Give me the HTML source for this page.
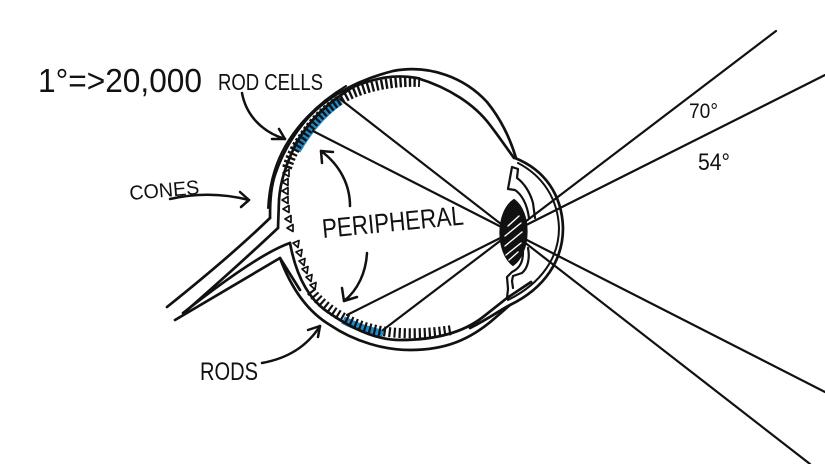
<!DOCTYPE html>
<html>
<head>
<meta charset="utf-8">
<style>
  html,body{margin:0;padding:0;background:#fff;}
  svg{display:block;}
  text{font-family:"Liberation Sans",sans-serif;fill:#111;}
</style>
</head>
<body>
<svg width="825" height="464" viewBox="0 0 825 464" xmlns="http://www.w3.org/2000/svg">
  <rect width="825" height="464" fill="#fff"/>

  <!-- blue retina highlights -->
  <path d="M296,150 C307,131 321,113 340,100" stroke="#1f8ac8" stroke-width="10" fill="none"/>
  <path d="M343,320 C355,326 369,331 383,334" stroke="#1f8ac8" stroke-width="8" fill="none"/>

  <g fill="none" stroke="#111" stroke-linecap="round" stroke-linejoin="round">
    <!-- rays -->
    <g stroke-width="2.2">
      <line x1="776" y1="31" x2="383" y2="330"/>
      <line x1="825" y1="75" x2="347" y2="315"/>
      <line x1="825" y1="392" x2="313" y2="131"/>
      <line x1="810" y1="464" x2="340" y2="99"/>
    </g>

    <!-- rod ticks top -->
    <path d="M287,168 C291,155 296,146 303,137 C315,118 333,101 356,92 C372,86 392,81 420,82" stroke-width="10" stroke-dasharray="2.4 2.3" stroke-linecap="butt"/>
    <!-- rod ticks bottom -->
    <path d="M311,291 C320,303 335,314 350,321 C365,328 380,332 400,333 C420,334 440,332 452,330" stroke-width="10" stroke-dasharray="2.2 2.8" stroke-linecap="butt"/>

    <!-- eye outer sclera -->
    <g stroke-width="2.7">
      <path d="M270,218 C270,200 271,185 276,172 C282,155 290,140 302,125 C320,102 350,82 393,71 C430,64 465,78 487,102 C500,118 510,138 516,158"/>
      <path d="M268,208 C269,188 274,168 282,152 C294,128 316,104 346,86" stroke-width="2"/>
      <!-- inner line -->
      <path d="M278,228 L279,200 C280,185 285,165 297,142 C310,120 325,105 353,87 C375,78 395,74 417,78 C450,88 475,105 490,125 C500,138 508,150 514,158"/>
      <!-- cornea -->
      <path d="M515,158 C545,170 562,195 563,228 C563,260 545,288 510,305 C500,310 490,318 470,328"/>
      <path d="M518,163 C543,176 558,199 559,228 C559,257 542,283 508,300" stroke-width="2"/>
      <!-- bottom outer -->
      <path d="M280,258 C290,285 305,310 330,325 C355,342 385,350 410,350 C445,350 470,340 495,318 L510,305"/>
      <!-- bottom inner -->
      <path d="M290,243 C295,270 305,295 325,310 C350,328 375,340 400,340 C430,340 460,335 483,317 L507,298 L531,282"/>
      <!-- optic nerve -->
      <path d="M270,218 Q232,255 167,307"/>
      <path d="M278,228 Q242,262 185,312"/>
      <path d="M290,243 Q258,254 183,313"/>
      <path d="M300,290 L280,258 L175,320"/>
    </g>

    <!-- iris upper -->
    <path d="M512,167 L518,169 L517,178 C524,183 530,192 533,203 L535,218 M512,167 L510,178 L508,189 L515,190 C521,194 527,203 529,218" stroke-width="2.2"/>
    <!-- iris lower -->
    <path d="M528,248 C530,258 528,268 522,273 L513,276 L512,281 L513,288 M523,252 C523,262 520,268 512,272 L507,277 L508,289 L507,298" stroke-width="2.2"/>

    <!-- cones -->
    <g stroke-width="1.7">
      <path d="M283,173 l6,-3.5 l0,7 z"/>
      <path d="M282,182 l6,-3.5 l0,7 z"/>
      <path d="M282,191 l6,-3.5 l0,7 z"/>
      <path d="M282,200 l6,-3.5 l0,7 z"/>
      <path d="M283,209 l6,-3.5 l0,7 z"/>
      <path d="M285,219 l6,-3.5 l0,7 z"/>
      <path d="M287,228 l6,-3.5 l0,7 z"/>
      <path d="M293,243 l6,-2.5 l-1,7 z"/>
      <path d="M296,252 l6,-2.5 l-1,7 z"/>
      <path d="M299,261 l6,-2.5 l-1,7 z"/>
      <path d="M302,269 l6,-2.5 l-1,7 z"/>
      <path d="M306,277 l6,-2.5 l-1,7 z"/>
      <path d="M310,285 l6,-2.5 l-1,7 z"/>
    </g>

    <!-- arrows -->
    <g stroke-width="2.5">
      <path d="M242,93 C246,115 262,132 285,139"/>
      <path d="M279,129 L285,139 L272,139"/>
      <path d="M170,199 Q210,190 249,200"/>
      <path d="M240,192 L249,200 L241,207"/>
      <path d="M350,206 C350,185 340,165 321,151"/>
      <path d="M333,152 L321,151 L322,163"/>
      <path d="M367,253 C366,272 358,290 344,301"/>
      <path d="M342,288 L344,301 L357,297"/>
      <path d="M262,363 C290,358 308,345 320,326"/>
      <path d="M308,330 L320,326 L318,337"/>
    </g>
  </g>

  <!-- lens -->
  <path d="M514,200 C531,212 531,252 513,265 C496,252 496,212 514,200 Z" fill="#111" stroke="#111" stroke-width="2"/>
  <g stroke="#fff" stroke-width="1.4" stroke-linecap="round">
    <line x1="508" y1="226" x2="519" y2="216"/>
    <line x1="505" y1="236" x2="521" y2="223"/>
    <line x1="505" y1="246" x2="522" y2="232"/>
    <line x1="506" y1="255" x2="521" y2="243"/>
    <line x1="509" y1="260" x2="518" y2="252"/>
  </g>

  <!-- labels -->
  <text x="38" y="92" font-size="33" textLength="164" lengthAdjust="spacingAndGlyphs">1°=&gt;20,000</text>
  <text x="218" y="90" font-size="23" textLength="105" lengthAdjust="spacingAndGlyphs">ROD CELLS</text>
  <text x="130" y="200" font-size="20" textLength="70" lengthAdjust="spacingAndGlyphs" transform="rotate(-5 130 200)">CONES</text>
  <text x="323" y="238" font-size="27" textLength="142" lengthAdjust="spacingAndGlyphs" transform="rotate(-5.5 323 238)">PERIPHERAL</text>
  <text x="200" y="380" font-size="25" textLength="58" lengthAdjust="spacingAndGlyphs">RODS</text>
  <text x="689" y="118" font-size="21" textLength="29" lengthAdjust="spacingAndGlyphs">70°</text>
  <text x="698" y="170" font-size="24" textLength="32" lengthAdjust="spacingAndGlyphs">54°</text>
</svg>
</body>
</html>
